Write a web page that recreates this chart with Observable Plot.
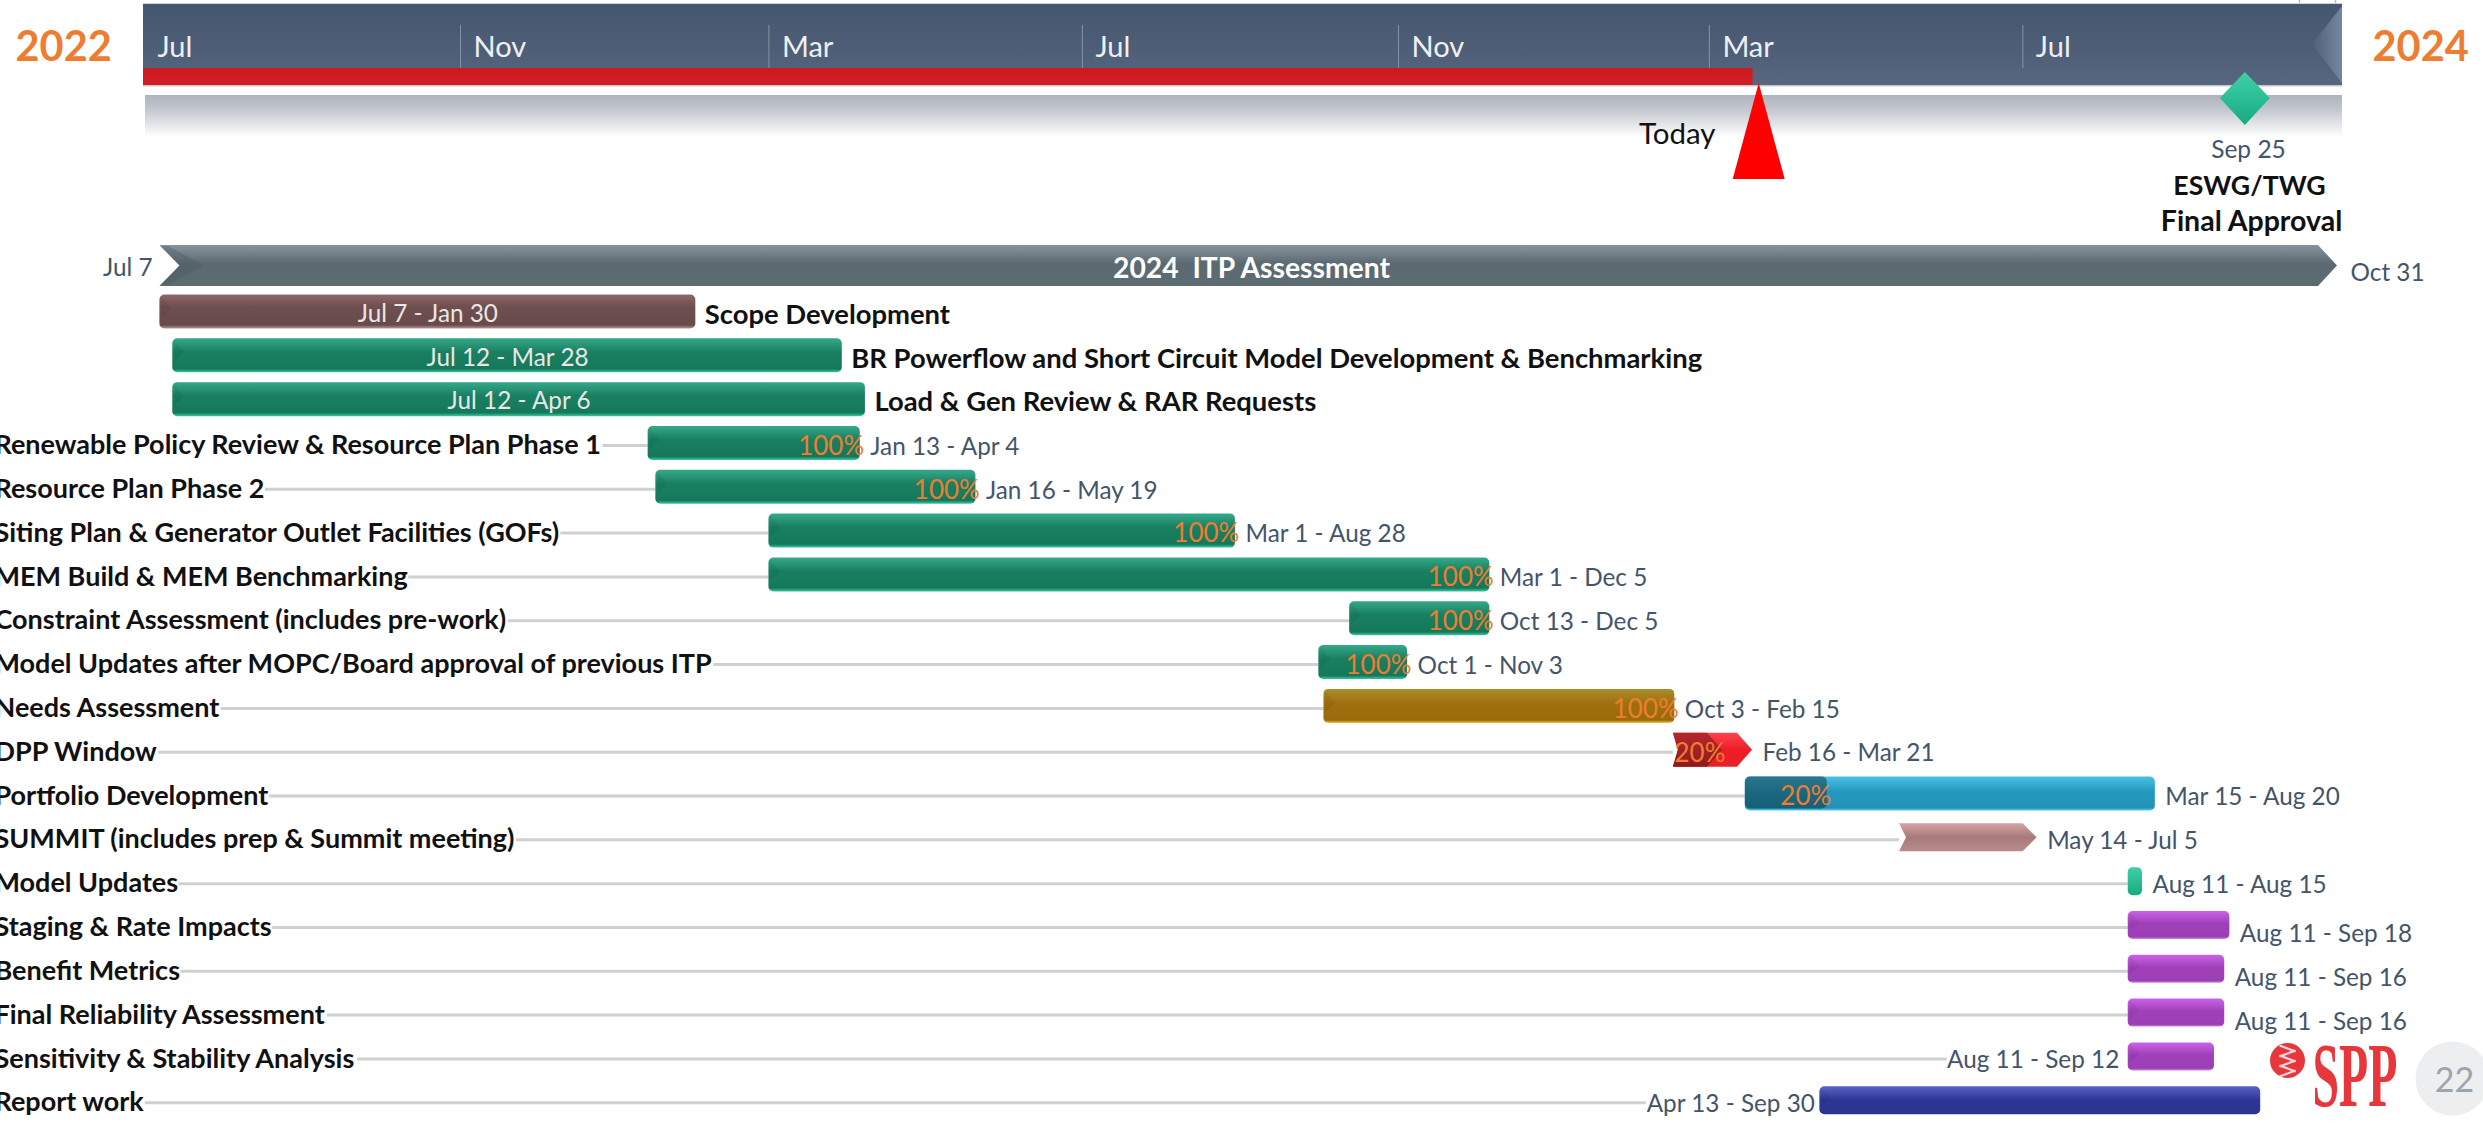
<!DOCTYPE html>
<html><head><meta charset="utf-8">
<style>html,body{margin:0;padding:0;background:#fff;overflow:hidden}svg{display:block}</style>
<script src="https://cdn.jsdelivr.net/npm/d3@7"></script>
<script src="https://cdn.jsdelivr.net/npm/@observablehq/plot@0.6"></script>
</head><body><div id="chart"></div>
<script>
// ---------- data ----------
const taskNames = ["Scope Development","BR Powerflow and Short Circuit Model Development & Benchmarking","Load & Gen Review & RAR Requests","Renewable Policy Review & Resource Plan Phase 1","Resource Plan Phase 2","Siting Plan & Generator Outlet Facilities (GOFs)","MEM Build & MEM Benchmarking","Constraint Assessment (includes pre-work)","Model Updates after MOPC/Board approval of previous ITP","Needs Assessment","DPP Window","Portfolio Development","SUMMIT (includes prep & Summit meeting)","Model Updates","Staging & Rate Impacts","Benefit Metrics","Final Reliability Assessment","Sensitivity & Stability Analysis","Report work"];
const taskStarts = ["2022-07-07","2022-07-12","2022-07-12","2023-01-13","2023-01-16","2023-03-01","2023-03-01","2023-10-13","2023-10-01","2023-10-03","2024-02-16","2024-03-15","2024-05-14","2024-08-11","2024-08-11","2024-08-11","2024-08-11","2024-08-11","2024-04-13"];
const taskEnds   = ["2023-01-30","2023-03-28","2023-04-06","2023-04-04","2023-05-19","2023-08-28","2023-12-05","2023-12-05","2023-11-03","2024-02-15","2024-03-21","2024-08-20","2024-07-05","2024-08-15","2024-09-18","2024-09-16","2024-09-16","2024-09-12","2024-09-30"];
const taskPercents = [null,null,null,100,100,100,100,100,100,100,20,20,null,null,null,null,null,null,null];
const taskGroups = ["scope","green","green","green","green","green","green","green","green","gold","red","blue","summit","mint","purple","purple","purple","purple","navy"];
const monthTicks = ["2022-07-01","2022-11-01","2023-03-01","2023-07-01","2023-11-01","2024-03-01","2024-07-01"];
const monthLabels = ["Jul","Nov","Mar","Jul","Nov","Mar","Jul"];
const assessmentStart = "2022-07-07", assessmentEnd = "2024-10-31";
const statusDate = "2024-03-18", todayDate = "2024-03-20", milestoneDate = "2024-09-25";

// ---------- layout ----------
const W = 2483, H = 1124;
const D = s => new Date(s + "T00:00:00Z");
const xDomain = [D("2022-07-01"), D("2024-11-02")], xRange = [144, 2341];
const px = d3.scaleUtc().domain(xDomain).range(xRange);
const atPx = v => px.invert(v);
const shift = (d, p) => atPx(px(d) + p);
const rowY = i => 311.5 + 43.82 * i;
const half = i => i < 12 ? 17 : 14;
const sans = "Lato, 'Open Sans', sans-serif";
const fsTask = 27, fsTop = 27.4, fsDate = 24.3, fsPct = 26;
const labelStart = -6;
const slate = "#44546A", orange = "#ED7D31";
const ctx = document.createElement("canvas").getContext("2d");
const measure = (t, size, weight) => { ctx.font = `${weight} ${size}px Lato`; return ctx.measureText(t).width; };
const fmt = d3.utcFormat("%b %-d");

const tasks = taskNames.map((name, i) => {
  const start = D(taskStarts[i]), end = D(taskEnds[i]);
  // bars run through the end day; the DPP chevron stops short of its stated end in the picture
  const drawnEnd = i === 10 ? atPx(1752) : atPx(px(end) + 4);
  const dates = `${fmt(start)} - ${fmt(end)}`;
  return {i, name, start, end, drawnEnd, dates, pct: taskPercents[i], group: taskGroups[i], y: rowY(i), lineY: rowY(i) + 2};
});
const labelLeft = t => t.i >= 3;
const dateOutside = t => t.i >= 3;
const dateLeft = t => t.i >= 17;
const dateY = t => t.y + (t.i >= 14 && t.i <= 16 ? 9 : 3.5);
const leftGap = t => t.i === 18 ? 5 : 9;

const grads = {
  scope:  [["0","#8f6868"],["0.35","#6f4f4f"],["0.9","#694a4a"],["1","#b59a9a"]],
  green:  [["0","#35a98a"],["0.4","#1a7f61"],["0.9","#15785a"],["1","#3cc9a2"]],
  gold:   [["0","#ab8d2b"],["0.45","#9f6f0e"],["0.92","#9b6a0a"],["1","#f0c244"]],
  red:    [["0","#ff4450"],["0.5","#ee1c25"],["1","#e8202a"]],
  reddk:  [["0","#b5262c"],["1","#8f1a1e"]],
  blue:   [["0","#48c1e6"],["0.45","#2499bd"],["0.92","#2292b6"],["1","#4fd0ef"]],
  bluedk: [["0","#2d7690"],["0.5","#1a6780"],["1","#175f78"]],
  summit: [["0","#d3a3a3"],["0.5","#a97a7a"],["1","#b88c8c"]],
  mint:   [["0","#3fd0a8"],["1","#17ab82"]],
  purple: [["0","#cb62ea"],["0.45","#a040b8"],["0.92","#9c3fb5"],["1","#c98ae0"]],
  navy:   [["0","#5a64c4"],["0.5","#2e3594"],["1","#2c3390"]],
  itp:    [["0","#87949f"],["0.45","#5b6971"],["1","#5d6b73"]],
  band:   [["0","#455670"],["0.55","#4e5e77"],["1","#57677f"]],
  scarlet:[["0","#c81a20"],["0.5","#d41c24"],["1","#cc1f26"]],
  haze:   [["0","#aeb3bd"],["0.35","#c3c7ce"],["1","#ffffff"]],
};
const url = k => `url(#g-${k})`;

// a horizontal arrow polygon as an area between two edges
const chevron = (start, end, yTop, yBot, notch, tip) => {
  const yMid = (yTop + yBot) / 2;
  return [
    {y: yTop, a: start, b: shift(end, -tip)},
    {y: yMid, a: shift(start, notch), b: end},
    {y: yBot, a: start, b: shift(end, -tip)},
  ];
};
const areaOf = (pts, fill, extra = {}) => Plot.area(pts, {x1: "a", x2: "b", y1: "y", y2: "y", fill, curve: "linear", ...extra});

const rectTasks = tasks.filter(t => t.group !== "red" && t.group !== "summit");
const groupsDrawn = [...new Set(rectTasks.map(t => t.group))];
const opp = tasks[10], portfolio = tasks[11], summit = tasks[12];
const progressEnd = t => new Date(+t.start + (t.pct / 100) * (t.drawnEnd - t.start));

const today = shift(D(todayDate), 1), milestone = shift(D(milestoneDate), 1.5);
const monthRows = monthTicks.map((m, i) => ({x: D(m), label: monthLabels[i]}));
const lined = tasks.filter(labelLeft).map(t => ({
  y: t.lineY,
  x1: atPx(labelStart + measure(t.name, fsTask, 700) + 1),
  x2: dateLeft(t) ? atPx(px(t.start) - leftGap(t) - measure(t.dates, fsDate, 400)) : t.start
}));

// faint corner shading at the left end of each glossy bar
const barWedges = rectTasks.filter(t => px(t.drawnEnd) - px(t.start) > 30).map(t => {
  const top = t.y - half(t.i), a = shift(t.start, 2);
  return [{y: top + 2, a, b: a}, {y: t.y - 3, a, b: shift(t.start, 12)}, {y: t.y + 6, a, b: a}];
});
const iconStripes = [-12, -7, -2, 3, 8, 13].map((o, k) => ({
  x1: atPx(2287 - 8), x2: atPx(2287 + 8),
  y1: 1060 + o + (k % 2 ? 3 : -3), y2: 1060 + o + (k % 2 ? -3 : 3)
}));

const plot = Plot.plot({
  width: W, height: H, margin: 0,
  style: {background: "transparent", fontFamily: sans},
  x: {type: "utc", domain: xDomain, range: xRange, axis: null},
  y: {type: "linear", domain: [0, H], range: [0, H], axis: null},
  marks: [
    // top timeline band
    Plot.ruleX([atPx(2299), atPx(2335)], {y1: () => 0, y2: () => 4, stroke: "#a6bedd", strokeWidth: 1.5}),
    Plot.rect([{}], {x1: () => atPx(143), x2: () => atPx(2342), y1: () => 3, y2: () => 4, fill: "#cdd2d8"}),
    Plot.rect([{}], {x1: () => atPx(143), x2: () => atPx(2342), y1: () => 4, y2: () => 85, fill: url("band")}),
    areaOf([{y: 6, a: atPx(2342), b: atPx(2342)}, {y: 44, a: atPx(2312), b: atPx(2342)}, {y: 83, a: atPx(2342), b: atPx(2342)}], "url(#g-bevel)"),
    Plot.rect([{}], {x1: () => atPx(143), x2: () => D(statusDate), y1: () => 68, y2: () => 85, fill: url("scarlet")}),
    Plot.rect([{}], {x1: () => atPx(143), x2: () => atPx(2342), y1: () => 85, y2: () => 86.5, fill: "#c3c8cf"}),
    Plot.ruleX(monthRows.slice(1), {x: "x", y1: () => 25, y2: () => 68, stroke: "#8593a6", strokeWidth: 1}),
    Plot.text(monthRows, {x: "x", y: () => 47, text: "label", dx: 13, textAnchor: "start", fill: "#eef0f3", fontSize: 29, fontFamily: sans}),
    Plot.rect([{}], {x1: () => atPx(145), x2: () => atPx(2342), y1: () => 95, y2: () => 137, fill: url("haze")}),
    Plot.text([{}], {x: () => atPx(15), y: () => 47, text: () => "2022", textAnchor: "start", fill: orange, fontSize: 41.5, fontWeight: 700, fontFamily: sans}),
    Plot.text([{}], {x: () => atPx(2372), y: () => 47, text: () => "2024", textAnchor: "start", fill: orange, fontSize: 41.5, fontWeight: 700, fontFamily: sans}),
    // today marker
    areaOf([{y: 83, a: today, b: today}, {y: 179, a: shift(today, -26), b: shift(today, 26)}], "#ff0000"),
    Plot.text([{}], {x: () => atPx(1715), y: () => 134, text: () => "Today", textAnchor: "end", fill: "#111", fontSize: 29.5, fontFamily: sans}),
    // milestone
    areaOf([{y: 72, a: milestone, b: milestone}, {y: 98, a: shift(milestone, -25), b: shift(milestone, 25)}, {y: 125, a: milestone, b: milestone}], url("mint")),
    Plot.text([{}], {x: () => atPx(2248), y: () => 150, text: () => "Sep 25", fill: slate, fontSize: 24.5, fontFamily: sans}),
    Plot.text([{}], {x: () => atPx(2249), y: () => 186, text: () => "ESWG/TWG", fill: "#111", fontSize: 26.7, fontWeight: 700, fontFamily: sans}),
    Plot.text([{}], {x: () => atPx(2251), y: () => 221, text: () => "Final Approval", fill: "#111", fontSize: 28.5, fontWeight: 700, fontFamily: sans}),
    // overall assessment arrow
    areaOf(chevron(D(assessmentStart), atPx(2337), 245, 286, 20, 19), url("itp")),
    areaOf([{y: 246, a: atPx(160), b: atPx(168)}, {y: 265.5, a: atPx(180), b: atPx(204)}, {y: 285, a: atPx(160), b: atPx(168)}], "#47545c", {fillOpacity: 0.3}),
    Plot.text([{}], {x: () => atPx(1251), y: () => 268, text: () => "2024  ITP Assessment", fill: "#fff", fontSize: 28.3, fontWeight: 700, fontFamily: sans}),
    Plot.text([{}], {x: () => atPx(152), y: () => 268, text: () => fmt(D(assessmentStart)), textAnchor: "end", fill: slate, fontSize: fsDate, fontFamily: sans}),
    Plot.text([{}], {x: () => atPx(2350), y: () => 273, text: () => fmt(D(assessmentEnd)), textAnchor: "start", fill: slate, fontSize: fsDate, fontFamily: sans}),
    // leader lines
    Plot.ruleY(lined, {y: "y", x1: "x1", x2: "x2", stroke: "#d0d0d0", strokeWidth: 3}),
    // task bars
    ...groupsDrawn.map(g => Plot.rect(rectTasks.filter(t => t.group === g), {
      x1: "start", x2: "drawnEnd", y1: t => t.y - half(t.i), y2: t => t.y + half(t.i), fill: url(g), rx: 5
    })),
    ...barWedges.map(w => areaOf(w, "#000", {fillOpacity: 0.05})),
    Plot.rect([portfolio], {x1: "start", x2: progressEnd, y1: t => t.y - half(t.i), y2: t => t.y + half(t.i) - 2, fill: url("bluedk"), rx: 5}),
    areaOf(chevron(opp.start, opp.drawnEnd, opp.y - 17, opp.y + 17, 5, 15), url("red")),
    areaOf(chevron(opp.start, atPx(1722), opp.y - 17, opp.y + 17, 5, 15), url("reddk")),
    areaOf(chevron(summit.start, summit.drawnEnd, summit.y - 14, summit.y + 14, 7, 14), url("summit")),
    // task labels
    Plot.text(tasks.filter(labelLeft), {x: () => atPx(labelStart), y: t => t.y + 2, text: "name", textAnchor: "start", fill: "#111", fontSize: fsTask, fontWeight: 700, fontFamily: sans}),
    Plot.text(tasks.filter(t => !labelLeft(t)), {x: "drawnEnd", y: t => t.y + 3, dx: 9, text: "name", textAnchor: "start", fill: "#111", fontSize: fsTop, fontWeight: 700, fontFamily: sans}),
    // date labels
    Plot.text(tasks.filter(t => !dateOutside(t)), {x: t => new Date((+t.start + +t.drawnEnd) / 2), y: t => t.y + 2, text: "dates", fill: "#e9e6e6", fontSize: fsDate, fontFamily: sans}),
    Plot.text(tasks.filter(t => dateOutside(t) && !dateLeft(t)), {x: "drawnEnd", y: dateY, dx: 10, text: "dates", textAnchor: "start", fill: slate, fontSize: fsDate, fontFamily: sans}),
    Plot.text(tasks.filter(dateLeft), {x: t => shift(t.start, -leftGap(t)), y: dateY, text: "dates", textAnchor: "end", fill: slate, fontSize: fsDate, fontFamily: sans}),
    // percent complete
    Plot.text(tasks.filter(t => t.pct === 100), {x: "drawnEnd", y: t => t.y + 3, dx: 4, text: t => t.pct + "%", textAnchor: "end", fill: orange, fontSize: fsPct, fontFamily: sans}),
    Plot.text([portfolio], {x: progressEnd, y: t => t.y + 3, dx: 4, text: t => t.pct + "%", textAnchor: "end", fill: orange, fontSize: fsPct, fontFamily: sans}),
    Plot.text([opp], {x: () => atPx(1725), y: t => t.y + 3, text: t => t.pct + "%", textAnchor: "end", fill: orange, fontSize: fsPct, fontFamily: sans}),
    // logo and page number
    Plot.dot([{}], {x: () => atPx(2287), y: () => 1060, r: 17.5, fill: "#e6383c"}),
    Plot.link(iconStripes, {x1: "x1", x2: "x2", y1: "y1", y2: "y2", stroke: "#ffd9da", strokeWidth: 2.2}),
    Plot.text([{}], {x: () => atPx(2312), y: () => 1076, text: () => "SPP", textAnchor: "start", fill: "#e6383c", fontSize: 92, fontWeight: 700, fontFamily: "'Liberation Serif', serif", className: "logo-text"}),
    Plot.dot([{}], {x: () => atPx(2452), y: () => 1078, r: 37, fill: "#eceef0"}),
    Plot.text([{}], {x: () => atPx(2454), y: () => 1081, text: () => "22", fill: "#9aa5ae", fontSize: 34, fontFamily: sans}),
  ]
});

// gradients referenced by the marks
const defs = Object.entries(grads).map(([k, stops]) =>
  `<linearGradient id="g-${k}" x1="0" y1="0" x2="0" y2="1">` +
  stops.map(([o, c]) => `<stop offset="${o}" stop-color="${c}"/>`).join("") + `</linearGradient>`).join("") +
  `<linearGradient id="g-bevel" x1="0" y1="0" x2="1" y2="0"><stop offset="0" stop-color="#4f5f78"/><stop offset="1" stop-color="#75879f"/></linearGradient>`;
plot.insertAdjacentHTML("afterbegin", `<defs>${defs}</defs>`);
plot.querySelectorAll(".logo-text text").forEach(t => { t.setAttribute("textLength", 85); t.setAttribute("lengthAdjust", "spacingAndGlyphs"); });
document.getElementById("chart").appendChild(plot);
</script></body></html>
